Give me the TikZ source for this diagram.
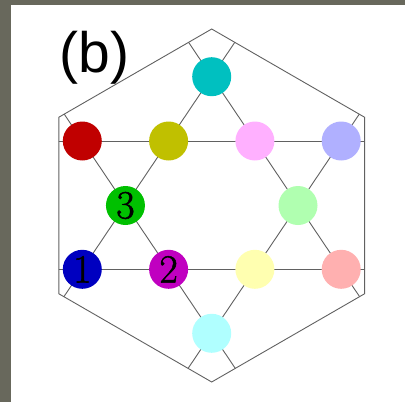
\documentclass[tikz,border=0pt]{standalone}
\usepackage{fontspec}
\newfontfamily\labelfont{Liberation Sans}
\newfontfamily\numfont{Latin Modern Roman}[FakeBold=1.3]
\usetikzlibrary{calc,backgrounds}
\definecolor{framegray}{RGB}{104,104,92}
\definecolor{cCyan}{RGB}{0,192,192}
\definecolor{cRed}{RGB}{192,0,0}
\definecolor{cOlive}{RGB}{192,192,0}
\definecolor{cPink}{RGB}{255,176,255}
\definecolor{cLav}{RGB}{176,176,255}
\definecolor{cGreen}{RGB}{0,192,0}
\definecolor{cLGreen}{RGB}{176,255,176}
\definecolor{cBlue}{RGB}{0,0,192}
\definecolor{cMag}{RGB}{192,0,192}
\definecolor{cLYel}{RGB}{255,255,176}
\definecolor{cLRed}{RGB}{255,176,176}
\definecolor{cLCyan}{RGB}{176,255,255}
\begin{document}
\begin{tikzpicture}[x=1pt,y=-1pt,
  site/.style={circle,minimum size=39pt,inner sep=0pt,fill=#1},
  bond/.style={draw=black!62,line width=0.9pt},
  num/.style={font=\numfont\fontsize{40}{40}\selectfont}]
\useasboundingbox (0,0) rectangle (405,402);
% hexagon corners
\coordinate (hT) at (211.7,29);
\coordinate (hUR) at (364.6,117.25);
\coordinate (hLR) at (364.6,293.75);
\coordinate (hB) at (211.7,382);
\coordinate (hLL) at (58.8,293.75);
\coordinate (hUL) at (58.8,117.25);
% sites
\node[site=cCyan] (cyan) at (211.7,76.7) {};
\node[site=cRed] (red) at (82.3,141) {};
\node[site=cOlive] (olive) at (168.6,141) {};
\node[site=cPink] (pink) at (254.9,141) {};
\node[site=cLav] (lav) at (341.2,141) {};
\node[site=cGreen,num] (green) at (125.45,205.5) {3};
\node[site=cLGreen] (lgreen) at (298.0,205.5) {};
\node[site=cBlue,num] (blue) at (82.3,269.3) {1};
\node[site=cMag,num] (mag) at (168.6,269.3) {2};
\node[site=cLYel] (lyel) at (254.9,269.3) {};
\node[site=cLRed] (lred) at (341.2,269.3) {};
\node[site=cLCyan] (lcyan) at (211.7,333.3) {};
\node[anchor=base west,inner sep=0pt,font=\labelfont\fontsize{57}{57}\selectfont] (lab) at (59.5,72) {(b)};
\begin{scope}[on background layer]
  \fill[framegray] (0,0) rectangle (405,402);
  \fill[white] (11,5) rectangle (405,402);
  \begin{scope}
    \clip (hT) -- (hUR) -- (hLR) -- (hB) -- (hLL) -- (hUL) -- cycle;
    \draw[bond] ($(red)!-1!(lav)$) -- ($(lav)!-1!(red)$);
    \draw[bond] ($(blue)!-1!(lred)$) -- ($(lred)!-1!(blue)$);
    \draw[bond] ($(cyan)!-1!(blue)$) -- ($(blue)!-1!(cyan)$);
    \draw[bond] ($(cyan)!-1!(lred)$) -- ($(lred)!-1!(cyan)$);
    \draw[bond] ($(lcyan)!-1!(red)$) -- ($(red)!-1!(lcyan)$);
    \draw[bond] ($(lcyan)!-1!(lav)$) -- ($(lav)!-1!(lcyan)$);
  \end{scope}
  \draw[bond] (hT) -- (hUR) -- (hLR) -- (hB) -- (hLL) -- (hUL) -- cycle;
\end{scope}
\end{tikzpicture}
\end{document}
